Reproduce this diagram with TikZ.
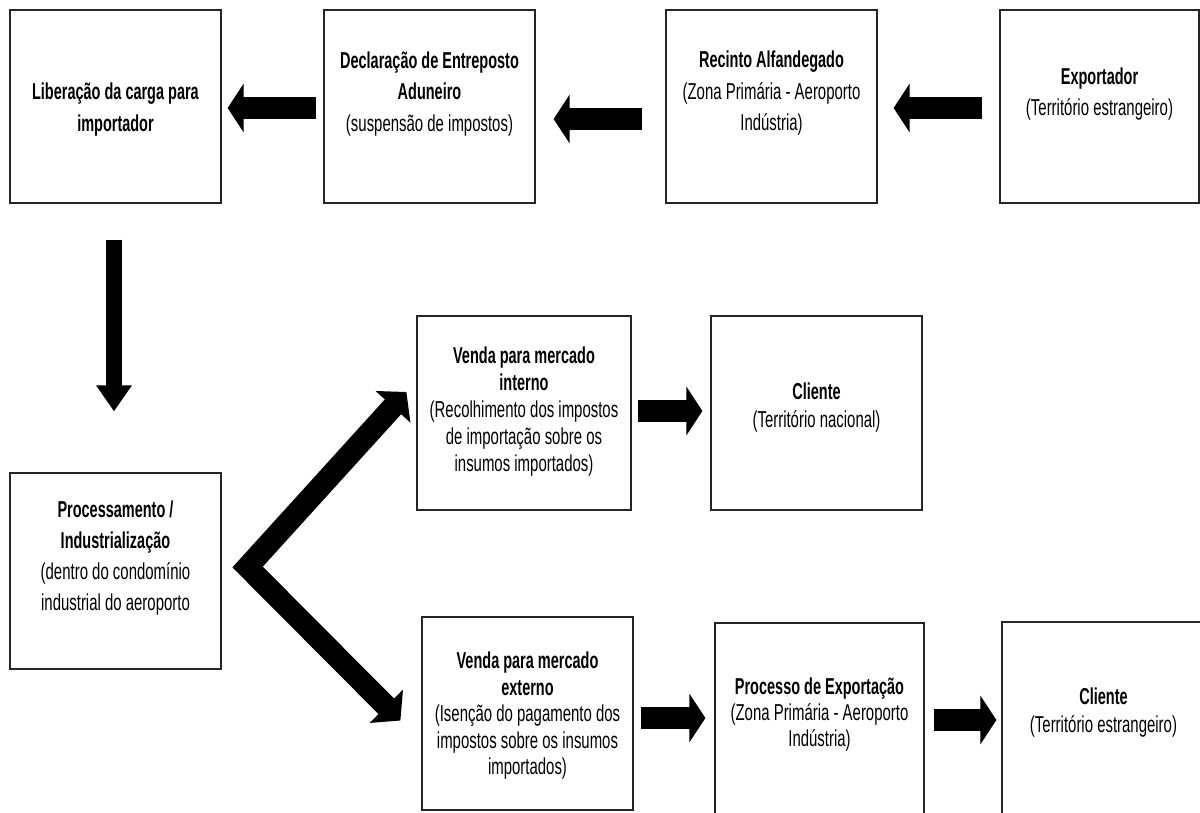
\documentclass[tikz,border=0pt]{standalone}
\usepackage{fontspec}
\setmainfont{Liberation Sans}[UprightFeatures={FakeStretch=0.65}, BoldFeatures={FakeStretch=0.63}]
\usetikzlibrary{arrows.meta,calc}
\begin{document}
\begin{tikzpicture}[x=1pt,y=-1pt,
  box/.style={draw=black!85, line width=1.2pt, rectangle, inner sep=0pt},
  txt/.style={align=center, inner sep=0pt, text=black, font=\fontsize{23}{#1}\selectfont},
  blk/.style={line width=22pt, -{Triangle[width=48pt,length=16pt]}},
  blkdown/.style={line width=16pt, -{Triangle[width=34pt,length=26pt]}},
  forkarrow/.style={line width=22pt, line join=miter, {Triangle[width=46pt,length=20pt]}-{Triangle[width=46pt,length=20pt]}},
]
\useasboundingbox (0,0) rectangle (1200,812);

% boxes
\node[box, minimum width=211pt, minimum height=193pt] (b1) at (115.5,106.5) {};
\node[box, minimum width=211pt, minimum height=193pt] (b2) at (429.5,106.5) {};
\node[box, minimum width=211pt, minimum height=193pt] (b3) at (771.5,106.5) {};
\node[box, minimum width=199pt, minimum height=193pt] (b4) at (1099.5,106.5) {};
\node[box, minimum width=211pt, minimum height=196pt] (b5) at (115.5,571) {};
\node[box, minimum width=214pt, minimum height=194pt] (b6) at (524,413) {};
\node[box, minimum width=211pt, minimum height=194pt] (b7) at (816.5,413) {};
\node[box, minimum width=211pt, minimum height=193pt] (b8) at (527.5,713.5) {};
\node[box, minimum width=209pt, minimum height=192pt] (b9) at (819.5,719) {};
\node[box, minimum width=203pt, minimum height=193pt] (b10) at (1103.5,718.5) {};

% texts
\node[txt=32] (t1) at ($(b1.center)+(0,3.5)$) {\textbf{Liberação da carga para}\\\textbf{importador}};
\node[txt=31.5] (t2) at ($(b2.center)+(0,-12.5)$) {\textbf{Declaração de Entreposto}\\\textbf{Aduneiro}\\(suspensão de impostos)};
\node[txt=31.5] (t3) at ($(b3.center)+(0,-13)$) {\textbf{Recinto Alfandegado}\\(Zona Primária - Aeroporto\\Indústria)};
\node[txt=31] (t4) at ($(b4.center)+(0,-12)$) {\textbf{Exportador}\\(Território estrangeiro)};
\node[txt=31] (t5) at ($(b5.center)+(0,-13)$) {\textbf{Processamento /}\\\textbf{Industrialização}\\(dentro do condomínio\\industrial do aeroporto};
\node[txt=27] (t6) at ($(b6.center)+(0,-1)$) {\textbf{Venda para mercado}\\\textbf{interno}\\(Recolhimento dos impostos\\de importação sobre os\\insumos importados)};
\node[txt=28] (t7) at ($(b7.center)+(0,-5)$) {\textbf{Cliente}\\(Território nacional)};
\node[txt=26.5] (t8) at ($(b8.center)+(0,2.5)$) {\textbf{Venda para mercado}\\\textbf{externo}\\(Isenção do pagamento dos\\impostos sobre os insumos\\importados)};
\node[txt=26] (t9) at ($(b9.center)+(0,-4)$) {\textbf{Processo de Exportação}\\(Zona Primária - Aeroporto\\Indústria)};
\node[txt=28] (t10) at ($(b10.center)+(0,-5.5)$) {\textbf{Cliente}\\(Território estrangeiro)};

% block arrows
\draw[blk] ($(b2.west)+(-7,1.5)$) -- ($(b1.east)+(6,1.5)$);
\draw[blk] ($(b3.west)+(-23,12.5)$) -- ($(b2.east)+(18,12.5)$);
\draw[blk] ($(b4.west)+(-17,1.5)$) -- ($(b3.east)+(16,1.5)$);
\draw[blkdown] ($(b1.south)+(-1.5,36)$) -- ($(b5.north)+(-1.5,-61)$);
\draw[blk] ($(b6.east)+(6,-2)$) -- ($(b7.west)+(-8,-2)$);
\draw[blk] ($(b8.east)+(7,4.5)$) -- ($(b9.west)+(-9,-1)$);
\draw[blk] ($(b9.east)+(9,1)$) -- ($(b10.west)+(-5,1.5)$);

% fork arrow
\coordinate (fk) at ($(b5.east)+(26,-4)$);
\draw[forkarrow] ($(b6.west)+(-10,-21)$) -- (fk) -- ($(b8.west)+(-21,7)$);
\end{tikzpicture}
\end{document}
